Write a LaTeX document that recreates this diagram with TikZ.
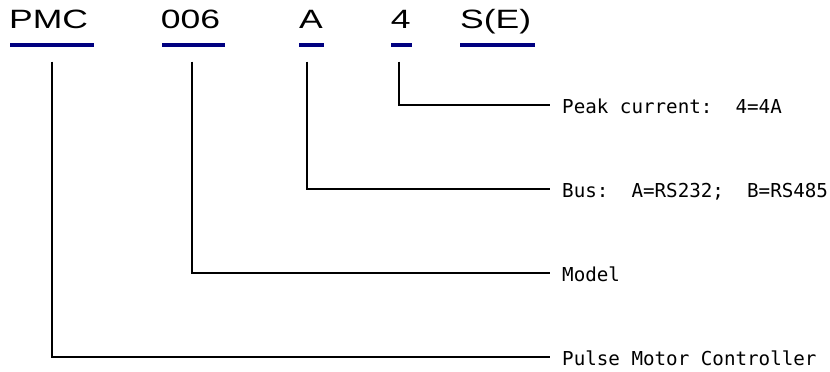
\documentclass[tikz,border=0pt]{standalone}
\usepackage{fontspec}
\setmainfont{Liberation Sans}
\newfontfamily\descfont{DejaVu Sans Mono}
\definecolor{navyline}{RGB}{0,0,128}
\begin{document}
\begin{tikzpicture}[x=1pt,y=-1pt,
  codebox/.style={anchor=base west,inner sep=0pt,font=\fontsize{26.5}{28}\selectfont},
  descbox/.style={anchor=west,inner xsep=12pt,inner ysep=0pt,text height=17pt,text depth=0pt,
     font=\descfont\fontsize{19.2}{21}\selectfont},
  uline/.style={draw=navyline,line width=3.6pt},
  conn/.style={draw=black,line width=1.9pt}]
\useasboundingbox (0,0) rectangle (830,372);
% code letters
\node[codebox] (p1) at (9,28.3) {\scalebox{1.34}[1]{PMC}};
\node[codebox] (p2) at (160.6,28.3) {\scalebox{1.34}[1]{006}};
\node[codebox] (p3) at (299,28.3) {\scalebox{1.34}[1]{A}};
\node[codebox] (p4) at (390.6,28.3) {\scalebox{1.34}[1]{4}};
\node[codebox] (p5) at (460,28.3) {\scalebox{1.34}[1]{S(E)}};
% underlines
\draw[uline] (10,45) -- (94,45);
\draw[uline] (162,45) -- (225,45);
\draw[uline] (299,45) -- (324,45);
\draw[uline] (391,45) -- (412,45);
\draw[uline] (460,45) -- (535,45);
% descriptions
\node[descbox] (d4) at (550,105) {Peak current:\ \ 4=4A};
\node[descbox] (d3) at (550,189) {Bus:\ \ A=RS232;\ \ B=RS485};
\node[descbox] (d2) at (550,273) {Model};
\node[descbox] (d1) at (550,357) {Pulse Motor Controller};
% connector starts
\coordinate (c1) at (52,61.5);
\coordinate (c2) at (192,61.5);
\coordinate (c3) at (307,61.5);
\coordinate (c4) at (399,61.5);
\draw[conn] (c1) |- (d1.west);
\draw[conn] (c2) |- (d2.west);
\draw[conn] (c3) |- (d3.west);
\draw[conn] (c4) |- (d4.west);
\end{tikzpicture}
\end{document}
